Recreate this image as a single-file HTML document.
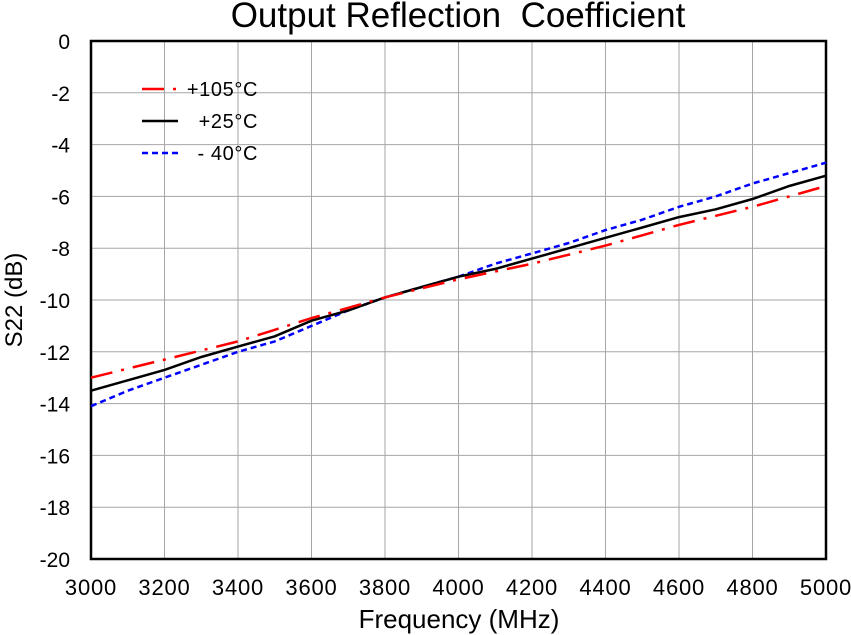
<!DOCTYPE html>
<html><head><meta charset="utf-8"><style>
body{margin:0;background:#fff;}
svg{display:block;font-family:"Liberation Sans",Arial,sans-serif;}
</style></head><body>
<svg id="chart" width="851" height="635"></svg>
<script>
const freqs=[3000,3100,3200,3300,3400,3500,3600,3700,3800,3900,4000,4100,4200,4300,4400,4500,4600,4700,4800,4900,5000];
const hot=[-13.0,-12.65,-12.3,-11.95,-11.6,-11.15,-10.7,-10.3,-9.9,-9.55,-9.2,-8.9,-8.6,-8.25,-7.9,-7.5,-7.1,-6.75,-6.4,-6.0,-5.6];
const room=[-13.5,-13.1,-12.7,-12.2,-11.8,-11.4,-10.8,-10.4,-9.9,-9.5,-9.1,-8.8,-8.4,-8.0,-7.6,-7.2,-6.8,-6.5,-6.1,-5.6,-5.2];
const cold=[-14.1,-13.5,-13.0,-12.5,-12.0,-11.6,-11.0,-10.4,-9.9,-9.5,-9.1,-8.6,-8.2,-7.8,-7.3,-6.9,-6.4,-6.0,-5.5,-5.1,-4.7];
const xTicks=[3000,3200,3400,3600,3800,4000,4200,4400,4600,4800,5000];
const yTicks=[0,-2,-4,-6,-8,-10,-12,-14,-16,-18,-20];
const L=91,R=826,T=41,B=559;
const xs=v=>L+(v-3000)/2000*(R-L);
const ys=v=>T+(0-v)/20*(B-T);
const svg=document.getElementById('chart');
const NS='http://www.w3.org/2000/svg';
function mk(tag,attrs,parent){const e=document.createElementNS(NS,tag);for(const k in attrs)e.setAttribute(k,attrs[k]);(parent||svg).appendChild(e);return e;}
const grid=mk('g',{});


xTicks.forEach(t=>{mk('line',{x1:xs(t),x2:xs(t),y1:T,y2:B,stroke:'#a6a6a6','stroke-width':1},grid);
 const tx=mk('text',{x:xs(t),y:595,'text-anchor':'middle','font-size':22,fill:'#000','letter-spacing':0.8});tx.textContent=t;
 
 });
yTicks.forEach(t=>{mk('line',{x1:L,x2:R,y1:ys(t),y2:ys(t),stroke:'#a6a6a6','stroke-width':1},grid);
 const ty=mk('text',{x:70,y:ys(t)+8,'text-anchor':'end','font-size':21,fill:'#000'});ty.textContent=t;
 
 });
const frame=mk('rect',{x:L,y:T,width:R-L,height:B-T,fill:'none',stroke:'#000','stroke-width':2.5});


function series(vals,color,dash,name){
 const d=vals.map((v,i)=>(i?'L':'M')+xs(freqs[i]).toFixed(1)+','+ys(v).toFixed(1)).join(' ');
 const p=mk('path',{d:d,fill:'none',stroke:color,'stroke-width':2.5,'stroke-dasharray':dash});
 
 
}
series(cold,'#0000ff','6 4','series-minus40c');
series(room,'#000','','series-25c');
series(hot,'#ff0000','22 9 3 9','series-105c');
const legend=[['#ff0000','22 9 3 9','+105°C',89],['#000','','+25°C',121],['#0000ff','6 4','- 40°C',153]];
legend.forEach(l=>{
 const ln=mk('line',{x1:142,x2:178,y1:l[3],y2:l[3],stroke:l[0],'stroke-width':2.5,'stroke-dasharray':l[1]});
 
 
 const t=mk('text',{x:258,y:l[3]+7,'text-anchor':'end','font-size':20,fill:'#000','letter-spacing':0.6});t.textContent=l[2];
 
 
});
const title=mk('text',{x:458,y:27,'text-anchor':'middle','font-size':35,fill:'#000'});title.textContent='Output Reflection\u00a0 Coefficient';


const xt=mk('text',{x:459,y:628,'text-anchor':'middle','font-size':26,fill:'#000'});xt.textContent='Frequency (MHz)';


const yt=mk('text',{x:0,y:0,'text-anchor':'middle','font-size':24,fill:'#000',transform:'translate(22,300) rotate(-90)'});yt.textContent='S22 (dB)';


</script>
</body></html>
